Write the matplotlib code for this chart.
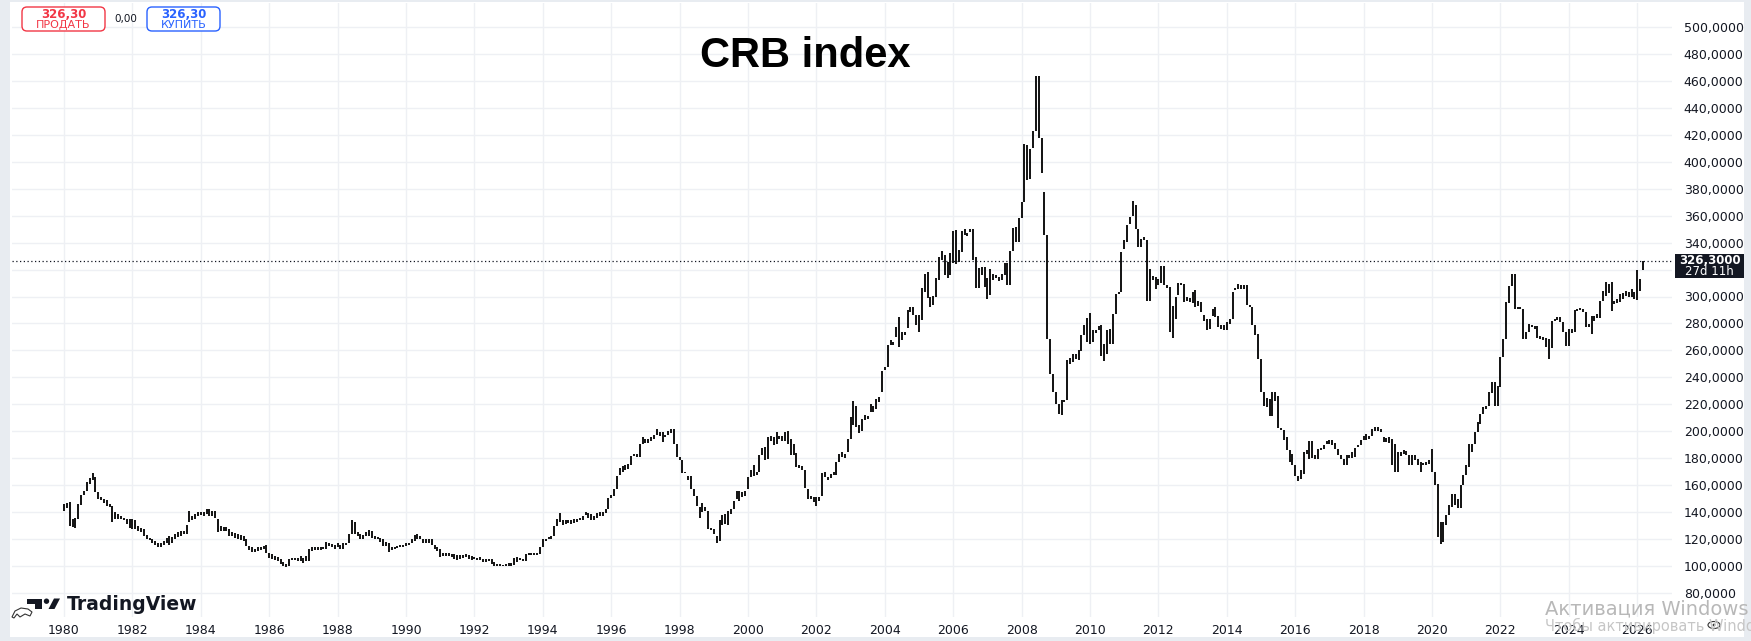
#!/usr/bin/env python3
"""CRB index, monthly bars 1980-2026, TradingView-style snapshot."""

import numpy as np
import matplotlib
matplotlib.use("Agg")
import matplotlib.pyplot as plt
from matplotlib.patches import FancyBboxPatch, Rectangle, Ellipse, Circle, Polygon

# ── Data: monthly bar low / high, one row per year, starting Jan 1980 ──────────
START_YEAR = 1980

LOW_1980S = [
    141, 143, 129.5, 129, 128, 135, 145.5, 152.5, 155.5, 161, 164, 155,
    150, 149, 147, 145, 144, 133, 135, 135, 135, 134, 131, 128,
    127.5, 127.5, 126, 125, 122.5, 120.5, 119.5, 117, 115.5, 114, 114.5, 116,
    117.5, 116, 117, 120, 122, 122.5, 124, 124, 132.5, 134, 135, 137,
    138, 137.5, 139, 137, 137, 136, 125, 126, 126, 126, 122.5, 122.5,
    121, 120.5, 119.5, 119, 115, 112, 110.5, 110.5, 111, 112, 112.5, 110,
    106, 105, 104.5, 104, 102, 100.5, 99.5, 100.5, 104.5, 104.5, 104, 104,
    102.5, 104, 104, 111, 112, 112, 112, 112.5, 112.5, 115, 114, 112.5,
    114, 113, 113, 115.5, 117.5, 124, 124, 122.5, 120.5, 120, 122.5, 122.5,
    121, 120.5, 120, 118, 115, 115, 110.5, 112, 113, 113.5, 114, 114,
]
HIGH_1980S = [
    146, 147, 147.5, 135, 136, 146, 152.5, 156, 162.5, 165.5, 169, 166,
    155, 151, 150, 149, 146, 145, 140.5, 139, 137, 136, 135, 135,
    135, 134, 129.5, 128, 127.5, 123, 121, 120, 119, 117.5, 117, 119,
    121, 122.5, 122, 124, 125, 126, 126, 130.5, 141, 137.5, 139, 140,
    140.5, 140, 142.5, 142.5, 141, 141, 135, 129.5, 129, 129, 127.5, 125,
    124.5, 124, 123, 122.5, 120, 115, 114, 113, 114, 114.5, 115, 115.5,
    110, 109, 107.5, 107, 105, 103, 102, 105, 106, 106, 106, 107.5,
    106, 107.5, 112.5, 114, 114, 114, 114, 114.5, 118, 117.5, 116.5, 115.5,
    117, 115.5, 117, 117.5, 124, 134, 133, 125, 124, 123, 125, 127,
    126, 122.5, 122, 121, 120, 118, 117.5, 114, 114.5, 115, 115.5, 115.5,
]

LOW_1990S = [
    115, 115.5, 117.5, 119, 120.5, 120, 117.5, 117, 117.5, 115.5, 113, 111,
    107, 107.5, 107.5, 107.5, 107, 105.5, 104.5, 105.5, 106, 107, 105.5, 104.5,
    105, 104.5, 104.5, 103, 103, 103.5, 102, 100.5, 100, 100.5, 100, 100,
    100, 100.5, 101, 103, 104.5, 103.5, 104, 108, 108.5, 108.5, 108.5, 109,
    114, 119, 120, 120, 122.5, 129.5, 133, 130.5, 131, 132, 131.5, 132,
    132.5, 134, 134.5, 138, 136, 134.5, 134.5, 136, 137, 137.5, 139.5, 142.5,
    150.5, 152.4, 157, 167.8, 169.7, 171.7, 172, 174.7, 182, 181, 180.9, 190.7,
    191.5, 191.5, 192.5, 194.5, 197, 196.4, 192, 195.7, 197.4, 198.9, 190.7, 180.9,
    179, 169, 169, 164, 157, 152.4, 145, 135.6, 140, 140.6, 127.7, 126.5,
    124, 117.5, 119, 130.7, 131.4, 130.2, 138.8, 142.5, 149.5, 148.7, 151.2, 152.4,
]
HIGH_1990S = [
    117, 117.5, 120, 123, 124, 122.5, 120.5, 120, 120, 120.5, 116, 114,
    112.5, 110, 109.5, 109.5, 109, 109, 108, 108, 108.5, 109, 108, 107.5,
    107, 106, 107, 105.5, 105, 105.5, 105, 103, 102, 102, 101, 102,
    102.5, 102.5, 106, 107, 106, 105.5, 109, 110, 110, 110, 110, 114,
    120, 120.5, 122, 122.5, 130, 135, 139.5, 134, 134, 134, 134, 135,
    135, 136, 137, 140.5, 139.5, 139, 137.5, 139.5, 140, 140.5, 142.5, 150.5,
    153, 157.4, 167, 172.7, 174, 174.7, 176, 181.6, 183, 183, 190.7, 195.7,
    194.5, 194.5, 195.7, 197.4, 201.4, 199.4, 199.4, 197.4, 200.6, 201.4, 201.4, 190.7,
    181, 179, 170, 167, 167, 156.9, 152.4, 143.8, 147, 143.8, 141.3, 128.2,
    127.7, 122.7, 134.6, 137.6, 138.8, 140.6, 142.5, 148.7, 155.4, 155.4, 154.9, 156.1,
]

LOW_2000S = [
    157.4, 166, 166.8, 167.8, 170.2, 182.6, 178.4, 179.6, 193.2, 190, 190.7, 194,
    192.5, 193.2, 190.7, 182.6, 182.1, 173.4, 173, 171, 157.9, 150, 149.5, 147.5,
    145, 148, 152.4, 166, 163.6, 165.3, 167.3, 168, 177.1, 180.9, 180.1, 184.6,
    194.5, 204.4, 203.1, 198.9, 200.6, 208.1, 209.3, 214.2, 214.2, 216.7, 221.7, 229.1,
    245.3, 247.7, 264.3, 264.3, 270, 262.6, 267.6, 271.8, 276.7, 288.6, 286.1, 278.7,
    273.7, 282.4, 303.5, 299, 292.3, 293.6, 299.7, 312.1, 327, 315.9, 313.9, 315.9,
    324.5, 323.8, 325.3, 333.2, 345.6, 345, 347.6, 327, 306, 306, 315.9, 307.2,
    298.5, 301, 312.1, 313.4, 311.4, 312.1, 315.9, 308.4, 308.4, 333.7, 340.1, 340.1,
    358.5, 369.8, 386.4, 387.2, 410, 422.4, 417.4, 391.4, 345.6, 268.8, 242.8, 229.2,
    220.5, 213, 211.8, 221.7, 223, 250.2, 251.5, 253.9, 252.7, 259.4, 271.3, 266.3,
]
HIGH_2000S = [
    166, 171, 174.7, 170.2, 182.6, 187.5, 188.3, 195.7, 196.4, 195.7, 199.4, 196.9,
    196.4, 199.4, 199.9, 194.5, 190.7, 184, 175, 174.5, 171, 157.4, 152.4, 151.2,
    151.2, 151.2, 169.2, 169.7, 166, 168.5, 169.7, 177.6, 183.3, 185, 183.3, 194.5,
    210.5, 222.2, 218.7, 204.8, 208.8, 212.3, 211.3, 220.4, 218.7, 224.1, 225.4, 245,
    247.7, 263.8, 267.6, 266, 277.5, 285, 273.7, 273.7, 290, 292.3, 292.3, 286.1,
    286.1, 306, 317, 317.8, 299.7, 300.5, 313.4, 329.5, 333.7, 330.7, 325.8, 332,
    348.5, 349.3, 334.4, 348.5, 350, 346.8, 350, 350, 329.5, 321.3, 322, 322,
    313.4, 320.3, 317, 315.9, 314.6, 317, 324.5, 324.5, 333.7, 351, 351.8, 358.5,
    369.8, 413, 412, 409.5, 422.8, 463.2, 463.2, 417.4, 377.8, 345.6, 268.8, 242.8,
    229.2, 220.5, 223, 223, 252.7, 254.4, 257.6, 257.6, 260.1, 271.3, 278.7, 283.7,
]

LOW_2010S = [
    265.1, 266.1, 273, 274.8, 256.2, 252.5, 257.4, 264.9, 264.9, 287, 302, 303.2,
    334.9, 340.4, 354, 359.7, 350.3, 336.7, 336.7, 341.6, 296.3, 296.3, 311.9, 305.7,
    308.2, 310.2, 308.2, 306.2, 273.5, 269.1, 283.4, 300.8, 308.7, 295.8, 296.3, 295.8,
    295.3, 292.1, 292.8, 288.4, 282.2, 275.5, 276, 285.4, 284.7, 277.2, 276, 274.8,
    275.5, 279.7, 283.4, 304.5, 305.7, 305.7, 305.7, 293.8, 292.1, 278.5, 271.6, 253.7,
    229, 218.6, 217.8, 211.1, 211.6, 222.8, 202.2, 201.2, 193.8, 186, 177, 174.8,
    166.9, 162.9, 164.4, 168.6, 183.4, 179.7, 180.2, 179.7, 179.7, 185.9, 187.1, 190.8,
    190.8, 190, 186.6, 182.2, 179.7, 174.8, 174.8, 180.2, 180.2, 180.9, 188.3, 190,
    193.3, 193.3, 194, 196.5, 199.9, 199.9, 199.4, 192, 192, 191.5, 175, 169.8,
    169.8, 181.7, 183.4, 182.6, 175.2, 175.2, 178.5, 174.8, 169.8, 174.8, 174.8, 176,
]
HIGH_2010S = [
    287.4, 274.8, 274.8, 278, 278.5, 264.9, 274.8, 276, 287, 302, 303.2, 333,
    341.6, 352.8, 359, 370.6, 368, 350.3, 342.9, 344, 341.6, 320.6, 315, 314.4,
    313.1, 322.6, 322.6, 308.2, 307, 293.3, 299.5, 310.2, 310.2, 309.4, 299.5, 298.8,
    303.2, 304.5, 296.3, 295.8, 286.4, 283.4, 283.4, 290.9, 292.1, 285.9, 279, 279,
    281, 283.4, 303.2, 306.2, 309.4, 308.7, 308.7, 308.2, 293.8, 292.1, 279, 272.3,
    253.7, 229, 224.5, 224, 229, 229, 226, 202.2, 201.2, 196, 186, 183.4,
    174.8, 166.9, 171, 184.6, 185.9, 192.5, 192.5, 182.2, 187.1, 187.6, 189.6, 192.5,
    193.3, 193.3, 191.5, 186.6, 182.6, 179.7, 182.6, 182.2, 184.6, 187.6, 190, 193.3,
    196.9, 198.2, 196.9, 201.4, 203.1, 203.1, 201.9, 195.7, 195, 195.7, 194.5, 190.8,
    184.6, 184.6, 185.9, 185.1, 182.6, 182.6, 182.2, 179.7, 177.2, 176.7, 177.2, 178.5,
]

LOW_2020S = [
    169.8, 160, 121.7, 116.8, 118, 130.4, 137.8, 143.9, 145.2, 143.2, 143.2, 160,
    167.4, 173.5, 184.6, 190.8, 199.4, 205.6, 213, 216.7, 219.1, 228.5, 219.1, 219.1,
    232.7, 254.9, 268.5, 295.1, 307.9, 290.7, 290.7, 290.5, 268.5, 268.5, 273.5, 277.1,
    275.9, 269, 268.5, 268, 262.3, 253.7, 261.6, 282, 282.8, 280.8, 273.4, 263.5,
    263.5, 272.9, 273.4, 289.4, 290.2, 288.7, 277.1, 277.1, 272.2, 282, 283.8, 283.8,
    296.8, 300.5, 302.5, 289.4, 294.4, 295.1, 295.6, 298.1, 300.5, 299.3, 299.3, 298.1,
    297.6, 304.2, 319.8,
]
HIGH_2020S = [
    186.6, 169.8, 161.2, 132.8, 132.8, 137.8, 145.2, 153.8, 153.8, 150.1, 160, 167.4,
    174.8, 190.8, 190.8, 199.4, 206.8, 213, 217.9, 219.1, 229, 236.9, 236.9, 233.9,
    254.9, 268.5, 295.6, 307.9, 316.6, 316.6, 291.9, 292, 290.7, 273.5, 279.6, 278.8,
    277.8, 277.8, 270.9, 270, 269, 268.5, 282, 283.3, 284.5, 284.5, 281.3, 273.4,
    275.9, 275.9, 290.2, 290.7, 291.2, 290.7, 288.7, 279.6, 285.2, 285.7, 287, 296.8,
    304.2, 310.4, 309.2, 310.9, 296.8, 298.1, 301.8, 302.5, 304.2, 303, 305.5, 303,
    319.8, 312.9, 326.4,
]

LAST_PRICE = 326.30
COUNTDOWN = "27d 11h"
PRICE_TICKS = list(range(80, 501, 20))
YEAR_TICKS = list(range(1980, 2027, 2))
TITLE = "CRB index"

# ── Layout (pixels of the 1751x641 canvas) ────────────────────────────────────
W, H = 1751, 641
PLOT_L, PLOT_R, PLOT_T, PLOT_B = 12, 1672, 3, 617
X1980_PX, PX_PER_YEAR = 64.0, 34.2        # where Jan 1980 sits, year width
Y100_PX, PX_PER_UNIT = 566.2, 1.3485      # where 100 sits, px per index point
TEXT = "#131722"
BAR = "#111111"
SELL = "#f23645"
BUY = "#2962ff"


def fmt_price(v, decimals=4):
    return f"{v:.{decimals}f}".replace(".", ",")


lows = np.array(LOW_1980S + LOW_1990S + LOW_2000S + LOW_2010S + LOW_2020S)
highs = np.array(HIGH_1980S + HIGH_1990S + HIGH_2000S + HIGH_2010S + HIGH_2020S)
x = START_YEAR + np.arange(len(lows)) / 12.0

fig = plt.figure(figsize=(W / 100, H / 100), dpi=100)
fig.patch.set_facecolor("white")

ax = fig.add_axes([PLOT_L / W, 1 - PLOT_B / H,
                   (PLOT_R - PLOT_L) / W, (PLOT_B - PLOT_T) / H])
ax.set_facecolor("white")
ax.set_xlim(START_YEAR + (PLOT_L - X1980_PX) / PX_PER_YEAR,
            START_YEAR + (PLOT_R - X1980_PX) / PX_PER_YEAR)
ax.set_ylim(100 - (PLOT_B - Y100_PX) / PX_PER_UNIT,
            100 + (Y100_PX - PLOT_T) / PX_PER_UNIT)

for s in ax.spines.values():
    s.set_visible(False)
ax.yaxis.tick_right()
ax.set_yticks(PRICE_TICKS)
# the 320 label sits under the last-price tag, as on the screen
ax.set_yticklabels(["" if abs(v - LAST_PRICE) < 10 else fmt_price(v)
                    for v in PRICE_TICKS])
ax.set_xticks(YEAR_TICKS)
ax.set_xticklabels([str(y) for y in YEAR_TICKS])
ax.tick_params(axis="y", length=0, pad=8.5, labelsize=9, colors=TEXT)
ax.tick_params(axis="x", length=0, pad=5, labelsize=9, colors=TEXT)
ax.grid(True, color="#eef0f4", lw=1.0, zorder=0)
ax.set_axisbelow(True)

# monthly bars
ax.vlines(x, lows, highs, colors=BAR, lw=1.4, zorder=3)

# last price dotted line
ax.axhline(LAST_PRICE, color=TEXT, lw=0.9, ls=(0, (1, 2)), zorder=2)

# ── Overlay in pixel coordinates for the chrome ───────────────────────────────
ov = fig.add_axes([0, 0, 1, 1])
ov.set_xlim(0, W)
ov.set_ylim(H, 0)
ov.axis("off")
ov.patch.set_visible(False)

# light frame around the chart
frame = "#e8ecf1"
ov.add_patch(Rectangle((0, 0), 10, H, color=frame, lw=0))
ov.add_patch(Rectangle((1744, 0), W - 1744, H, color=frame, lw=0))
ov.add_patch(Rectangle((0, 637), W, H - 637, color=frame, lw=0))
ov.add_patch(Rectangle((0, 0), W, 2, color=frame, lw=0))

# last price tag on the price scale
y_last = H - ax.transData.transform((0, LAST_PRICE))[1]
ov.add_patch(Rectangle((1675, y_last - 7), 69, 24, color=TEXT, lw=0))
ov.text(1709.5, y_last - 0.5, fmt_price(LAST_PRICE), color="white", fontsize=8.5,
        fontweight="bold", ha="center", va="center")
ov.text(1709.5, y_last + 10, COUNTDOWN, color="white", fontsize=8.5,
        ha="center", va="center")

# sell / buy buttons
for x0, w, col, label in [(22, 83, SELL, "ПРОДАТЬ"), (147, 73, BUY, "КУПИТЬ")]:
    ov.add_patch(FancyBboxPatch((x0, 7), w, 24,
                                boxstyle="round,pad=0,rounding_size=5",
                                fc="white", ec=col, lw=1.0))
    ov.text(x0 + w / 2, 14.5, fmt_price(LAST_PRICE, 2), color=col,
            fontsize=8.5, fontweight="bold", ha="center", va="center")
    ov.text(x0 + w / 2, 25, label, color=col, fontsize=8,
            ha="center", va="center")
ov.text(126, 19, "0,00", color=TEXT, fontsize=7.5, ha="center", va="center")

# title
ov.text(805, 56, TITLE, fontsize=30, fontweight="bold",
        family=["Liberation Sans", "DejaVu Sans"], color="black",
        ha="center", va="center")

# TradingView logo
ov.add_patch(Rectangle((27, 598.5), 14.5, 5, color=TEXT, lw=0))
ov.add_patch(Rectangle((35, 598.5), 6.5, 10.5, color=TEXT, lw=0))
ov.add_patch(Circle((46.5, 601.2), 2.7, color=TEXT, lw=0))
ov.add_patch(Polygon([(48.5, 609), (54.5, 609), (60, 598.5), (54, 598.5)],
                     closed=True, color=TEXT, lw=0))
ov.text(67, 604, "TradingView", fontsize=13.5, fontweight="bold", color=TEXT,
        ha="left", va="center")

# mouse cursor outline left of the logo
ov.add_patch(Polygon([(12, 617), (15, 611), (21, 608), (28, 609), (32, 612),
                      (30, 616), (25, 614), (20, 617), (17, 614), (14, 618)],
                     closed=True, fc="white", ec="#333333", lw=0.8))

# eye icon near the time scale corner
ov.add_patch(Ellipse((1714, 625), 12, 7, fc="none", ec="#333333", lw=0.8))
ov.add_patch(Circle((1714, 625), 1.4, color="#333333", lw=0))

# OS activation watermark
ov.text(1545, 609, "Активация Windows", fontsize=14, color="#b8b8b8",
        ha="left", va="center")
ov.text(1545, 626, "Чтобы активировать Windows", fontsize=10.5, color="#c6c6c6",
        ha="left", va="center")

fig.savefig("out.png", dpi=100)
